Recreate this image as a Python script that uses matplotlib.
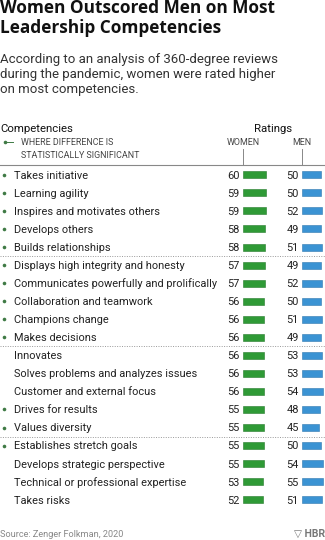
import matplotlib
matplotlib.use('Agg')
import matplotlib.pyplot as plt

competencies = [
	'Takes initiative', 'Learning agility', 'Inspires and motivates others',
	'Develops others', 'Builds relationships', 'Displays high integrity and honesty',
	'Communicates powerfully and prolifically', 'Collaboration and teamwork',
	'Champions change', 'Makes decisions', 'Innovates',
	'Solves problems and analyzes issues', 'Customer and external focus',
	'Drives for results', 'Values diversity', 'Establishes stretch goals',
	'Develops strategic perspective', 'Technical or professional expertise', 'Takes risks',
]
women = [60, 59, 59, 58, 58, 57, 57, 56, 56, 56, 56, 56, 56, 55, 55, 55, 55, 53, 52]
men = [50, 50, 52, 49, 51, 49, 52, 50, 51, 49, 53, 53, 54, 48, 45, 50, 54, 55, 51]
significant = [1, 1, 1, 1, 1, 1, 1, 1, 1, 1, 0, 0, 0, 1, 1, 1, 0, 0, 0]
groups_end = [4, 9, 14]

W, H = 325, 540
fig = plt.figure(figsize = (W / 100, H / 100), dpi = 100)
ax = fig.add_axes([0, 0, 1, 1])
ax.set_xlim(0, W)
ax.set_ylim(H, 0)
ax.axis('off')

plt.rcParams['font.family'] = ['Roboto', 'DejaVu Sans']
body = 7.9
small = 6.4
green = '#2f9a36'
blue = '#3b93d3'
dot = '#3f7a45'
pxPerPt = 0.39

# title block
for i, line in enumerate(['Women Outscored Men on Most', 'Leadership Competencies']):
	ax.text(0, 12.8 + 20 * i, line, fontsize = 12.4, fontweight = 'bold', family = ['Open Sans', 'Roboto'], va = 'baseline', color = '#111111')
for i, line in enumerate(['According to an analysis of 360-degree reviews',
		'during the pandemic, women were rated higher', 'on most competencies.']):
	ax.text(0, 62.5 + 15.5 * i, line, fontsize = 9.5, va = 'baseline', color = '#333333')

# header
ax.text(0, 131.7, 'Competencies', fontsize = body + 0.3, va = 'baseline', color = '#111111')
ax.text(273, 131.7, 'Ratings', fontsize = body + 0.3, va = 'baseline', ha = 'center', color = '#111111')
ax.text(21, 145, 'WHERE DIFFERENCE IS', fontsize = small, va = 'baseline', color = '#444444')
ax.text(21, 158, 'STATISTICALLY SIGNIFICANT', fontsize = small, va = 'baseline', color = '#444444')
ax.plot([4.5], [141.5], 'o', ms = 2.6, color = dot, mew = 0)
ax.plot([5, 12.5], [141.5, 141.5], color = dot, lw = 0.7)

womenX, menX = 242.5, 301.7
ax.text(womenX + 1, 145, 'WOMEN', fontsize = small, va = 'baseline', ha = 'center', color = '#444444')
ax.text(menX, 145, 'MEN', fontsize = small, va = 'baseline', ha = 'center', color = '#444444')
ax.plot([womenX, womenX], [149, 164.5], color = '#888888', lw = 0.7)
ax.plot([menX, menX], [149, 164.5], color = '#888888', lw = 0.7)
ax.plot([0, W], [164.5, 164.5], color = '#888888', lw = 0.8)

# rows
y0, step = 174.8, 18.05
ys = [y0 + step * i for i in range(len(competencies))]
ax.barh(ys, [v * pxPerPt for v in women], left = womenX, height = 7, color = green, edgecolor = '#257a2b', lw = 0.4)
ax.barh(ys, [v * pxPerPt for v in men], left = menX, height = 7, color = blue, edgecolor = '#2f78b0', lw = 0.4)
for i, y in enumerate(ys):
	ax.text(14, y + 3.9, competencies[i], fontsize = body, va = 'baseline', color = '#222222')
	if significant[i]:
		ax.plot([3.8], [y], 'o', ms = 2.6, color = dot, mew = 0)
	ax.text(womenX - 3, y + 3.9, str(women[i]), fontsize = body, va = 'baseline', ha = 'right', color = '#222222')
	ax.text(menX - 3, y + 3.9, str(men[i]), fontsize = body, va = 'baseline', ha = 'right', color = '#222222')
for g in groups_end:
	yy = (ys[g] + ys[g + 1]) / 2
	ax.plot([0, W], [yy, yy], color = '#999999', lw = 0.7, ls = (0, (1, 1.5)))

# footer
ax.text(0, 537, 'Source: Zenger Folkman, 2020', fontsize = 6.6, va = 'baseline', color = '#888888')
ax.text(W, 537, '\u25bd HBR', fontsize = 7.5, fontweight = 'bold', va = 'baseline', ha = 'right', color = '#777777')

fig.savefig('out.png', dpi = 100)
